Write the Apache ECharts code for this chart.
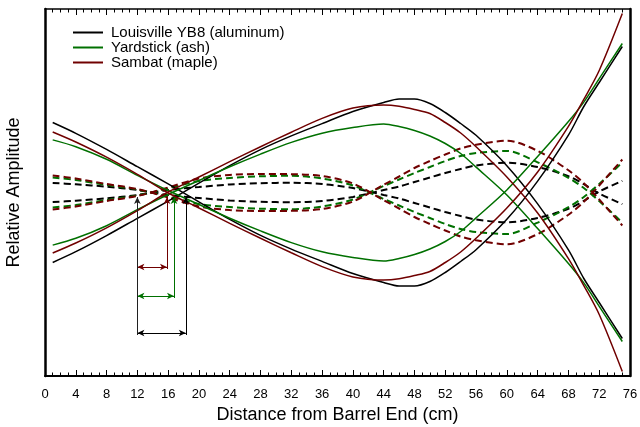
<!DOCTYPE html>
<html>
<head>
<meta charset="utf-8">
<script src="https://cdn.jsdelivr.net/npm/echarts@6/dist/echarts.min.js"></script>
<style>html,body{margin:0;padding:0;background:#fff}#c{width:640px;height:427px}</style>
</head>
<body>
<div id="c"></div>
<script>
// Distance from barrel end (cm) where mode shapes were read
const cm = [1, 4, 8, 12, 16, 20, 24, 28, 32, 36, 40, 44, 46, 48, 50, 52, 54, 56, 60, 64, 68, 70, 72, 75];
// First bending mode (solid) relative amplitude
const louisvilleMode1 = [70, 59.2, 43.1, 25.8, 8.6, -9.3, -26.9, -42.9, -56.6, -68.9, -81, -90, -93.5, -93.5, -89, -80, -69, -57.2, -26.8, 11.4, 57.4, 86, 110, 146];
const yardstickMode1  = [52.6, 45.8, 33.2, 17.2, 2, -12, -25.7, -38.4, -50.1, -59.3, -65, -68.5, -66, -62, -56.5, -49, -39, -25.4, 2.5, 36, 71, 90.4, 113.8, 149];
const sambatMode1     = [60.5, 50.5, 35.3, 18.1, -0.5, -15.5, -30.8, -45.8, -60.3, -74.1, -84.4, -87.5, -86.3, -83.1, -79, -70, -59.5, -45.8, -15.6, 20.5, 66.1, 93.1, 122, 179];
// Second bending mode (dashed) relative amplitude
const louisvilleMode2 = [9.5, 8.2, 5.8, 2.5, -2.5, -5.5, -8, -9.3, -9.7, -8.5, -4.5, 2.5, 6, 10.5, 15, 19.5, 23.5, 27, 29.7, 25.5, 16.3, 8.3, -1, -11.7];
const yardstickMode2  = [15, 12.5, 7.5, 3, -4, -11.5, -14.5, -16.2, -16.7, -14, -7, 6.5, 13, 19.5, 25.5, 31.5, 36.5, 39.5, 41.5, 30.2, 14.7, 4.5, -8.5, -30];
const sambatMode2     = [17, 14, 8.5, 3.5, -5, -14, -17.5, -18.5, -18.3, -16.5, -9, 7.7, 16, 24.5, 31.5, 38, 44, 47.8, 51.8, 41.6, 22.2, 9.3, -7, -33];
// Node annotations: reference line and node positions (cm), arrow levels
const refX = 12;
const nodeX = [18.3, 16.76, 15.85];       // louisville, yardstick, sambat
const arrowY = [-140.5, -103.5, -74.5];   // horizontal arrow levels
const nodeTopY = -4.5;
const refBottomY = -142.5;

const names = ['Louisville YB8 (aluminum)', 'Yardstick (ash)', 'Sambat (maple)'];
const colors = ['#000000', '#007000', '#700000'];
const mode1 = [louisvilleMode1, yardstickMode1, sambatMode1];
const mode2 = [louisvilleMode2, yardstickMode2, sambatMode2];

const FONT = "'Liberation Sans', Arial, Helvetica, sans-serif";
const pairs = (arr, sign) => cm.map((x, i) => [x, sign * arr[i]]);

const series = [];
for (let b = 0; b < 3; b++) {
  [1, -1].forEach((s, k) => {
    series.push({
      name: k === 0 ? names[b] : names[b] + ' mirror',
      type: 'line', smooth: 0.3, symbol: 'none', silent: true,
      data: pairs(mode1[b], s),
      lineStyle: { color: colors[b], width: 1.5 },
      itemStyle: { color: colors[b] },
      z: 3
    });
    series.push({
      name: names[b] + ' mode2 ' + k,
      type: 'line', smooth: 0.3, symbol: 'none', silent: true,
      data: pairs(mode2[b], s),
      lineStyle: { color: colors[b], width: 2, type: [7, 4] },
      itemStyle: { color: colors[b] },
      z: 2
    });
  });
}
// annotations
for (let b = 0; b < 3; b++) {
  series.push({
    name: 'ann' + b, type: 'line', data: [], silent: true,
    markLine: {
      silent: true, animation: false,
      label: { show: false },
      lineStyle: { color: colors[b], width: 1, type: 'solid' },
      symbolSize: [5, 7],
      data: [
        [{ coord: [nodeX[b], arrowY[b] - 2], symbol: 'none' }, { coord: [nodeX[b], nodeTopY], symbol: 'arrow' }],
        [{ coord: [refX, arrowY[b]], symbol: 'arrow' }, { coord: [nodeX[b], arrowY[b]], symbol: 'arrow' }]
      ]
    }
  });
}
series.push({
  name: 'annRef', type: 'line', data: [], silent: true,
  markLine: {
    silent: true, animation: false, label: { show: false },
    lineStyle: { color: '#202020', width: 1, type: 'solid' },
    symbolSize: [5, 7],
    data: [[{ coord: [refX, refBottomY], symbol: 'none' }, { coord: [refX, nodeTopY], symbol: 'arrow' }]]
  }
});

const xBase = {
  type: 'value', min: 0, max: 76, interval: 4,
  splitLine: { show: false },
  axisLine: { show: true, onZero: false, lineStyle: { color: '#000', width: 2 } },
  axisTick: { show: true, inside: true, length: 6, lineStyle: { color: '#000', width: 1 } },
  minorTick: { show: true, splitNumber: 4, length: 3.5, lineStyle: { color: '#000', width: 1 } },
  minorSplitLine: { show: false }
};
const yBase = {
  type: 'value', min: -183.5, max: 183.5,
  splitLine: { show: false }, axisTick: { show: false }, axisLabel: { show: false },
  axisLine: { show: true, onZero: false, lineStyle: { color: '#000', width: 2.5 } }
};

const chart = echarts.init(document.getElementById('c'), null, { renderer: 'canvas' });
chart.setOption({
  animation: false,
  backgroundColor: '#fff',
  grid: { left: 45, right: 10, top: 9, bottom: 51, containLabel: false, outerBoundsMode: 'none' },
  legend: {
    data: names, orient: 'vertical', left: 73, top: 25, padding: 0,
    icon: 'rect', itemWidth: 30, itemHeight: 2, itemGap: 0,
    selectedMode: false,
    textStyle: { fontFamily: FONT, fontSize: 15, lineHeight: 15, color: '#000', padding: [0, 0, 0, 3] }
  },
  xAxis: [
    Object.assign({}, xBase, {
      position: 'bottom',
      axisLabel: { show: true, fontFamily: FONT, fontSize: 13, color: '#000', margin: 12 },
      name: 'Distance from Barrel End (cm)', nameLocation: 'middle', nameGap: 28,
      nameTextStyle: { fontFamily: FONT, fontSize: 18, color: '#000' }
    }),
    Object.assign({}, xBase, {
      position: 'top', axisLabel: { show: false },
      axisLine: { show: true, onZero: false, lineStyle: { color: '#000', width: 1.5 } }
    })
  ],
  yAxis: [
    Object.assign({}, yBase, {
      position: 'left',
      name: 'Relative Amplitude', nameLocation: 'middle', nameGap: 22,
      nameTextStyle: { fontFamily: FONT, fontSize: 18, color: '#000' }
    }),
    Object.assign({}, yBase, { position: 'right' })
  ],
  series: series
});
</script>
</body>
</html>
